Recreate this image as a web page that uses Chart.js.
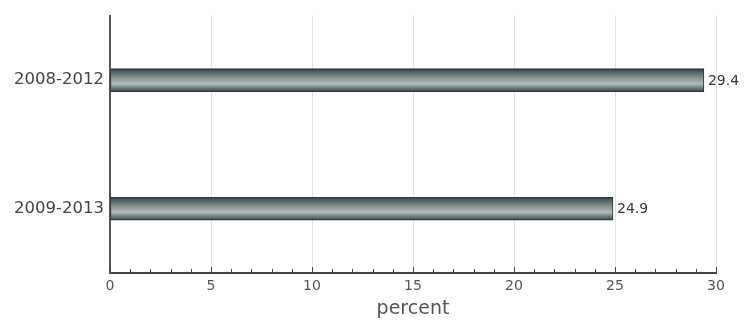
<!DOCTYPE html>
<html>
<head>
<meta charset="utf-8">
<script src="https://cdn.jsdelivr.net/npm/chart.js@4"></script>
<style>
  html, body { margin: 0; padding: 0; background: #fff; }
  #wrap { width: 748px; height: 320px; }
</style>
</head>
<body>
<div id="wrap"><canvas id="myChart_percent"></canvas></div>
<script>
// data
const periods = ['2008-2012', '2009-2013']
const percentValues = [29.4, 24.9]
const xMin = 0
const xMax = 30

// cylinder look for the bars
function barGradient(context) {
  const chart = context.chart
  const yScale = chart.scales.y
  if (!yScale || !chart.chartArea) {
    return '#7a8687'
  }
  const mid = yScale.getPixelForValue(context.dataIndex)
  const half = 12
  const g = chart.ctx.createLinearGradient(0, mid - half, 0, mid + half)
  g.addColorStop(0, '#2f3d42')
  g.addColorStop(0.18, '#56666a')
  g.addColorStop(0.45, '#909c9c')
  g.addColorStop(0.65, '#b2bab8')
  g.addColorStop(0.85, '#667475')
  g.addColorStop(1, '#2a363a')
  return g
}

// little ticks every 1 along the bottom axis, pointing up
const minorTicks = {
  id: 'minorTicks',
  afterDatasetsDraw(chart) {
    const ctx = chart.ctx
    const x = chart.scales.x
    const bottom = chart.chartArea.bottom
    ctx.save()
    ctx.strokeStyle = '#444'
    ctx.lineWidth = 1
    for (let v = xMin; v <= xMax; v++) {
      const px = Math.round(x.getPixelForValue(v)) + 0.5
      const len = v % 5 === 0 ? 6 : 4
      ctx.beginPath()
      ctx.moveTo(px, bottom)
      ctx.lineTo(px, bottom - len)
      ctx.stroke()
    }
    ctx.restore()
  }
}

// value written at the end of each bar
const valueLabels = {
  id: 'valueLabels',
  afterDatasetsDraw(chart) {
    const ctx = chart.ctx
    const meta = chart.getDatasetMeta(0)
    ctx.save()
    ctx.font = '14px "DejaVu Sans"'
    ctx.fillStyle = '#3a3a3a'
    ctx.textAlign = 'left'
    ctx.textBaseline = 'middle'
    meta.data.forEach(function (bar, i) {
      ctx.fillText(String(percentValues[i]), bar.x + 4, bar.y + 1)
    })
    ctx.restore()
  }
}

const data_percent = {
  labels: periods,
  datasets: [{
    label: 'percent',
    data: percentValues,
    backgroundColor: barGradient,
    borderColor: '#2a363a',
    borderWidth: 1,
    borderSkipped: false,
    barThickness: 23
  }]
}

const config_percent = {
  type: 'bar',
  data: data_percent,
  options: {
    indexAxis: 'y',
    responsive: true,
    maintainAspectRatio: false,
    animation: false,
    layout: { padding: { top: 9, right: 32, left: 0, bottom: 0 } },
    plugins: {
      legend: { display: false },
      tooltip: { enabled: false }
    },
    scales: {
      x: {
        min: xMin,
        max: xMax,
        ticks: {
          stepSize: 1,
          autoSkip: false,
          maxRotation: 0,
          padding: 5,
          color: '#555',
          font: { family: 'DejaVu Sans', size: 14 },
          callback: function (v) { return v % 5 === 0 ? v : '' }
        },
        grid: {
          drawTicks: false,
          color: function (c) {
            return c.tick && c.tick.value % 5 === 0 && c.tick.value !== 0 ? '#e2e2e2' : 'rgba(0,0,0,0)'
          }
        },
        border: { display: true, color: '#444', width: 2 },
        title: {
          display: true,
          text: 'percent',
          color: '#555',
          font: { family: 'DejaVu Sans', size: 19 },
          padding: { top: 3, bottom: 0 }
        },
        afterFit: function (scale) { scale.height = 47 }
      },
      y: {
        ticks: {
          color: '#444',
          padding: 6,
          font: { family: 'DejaVu Sans', size: 16.5 }
        },
        grid: { display: false, drawTicks: false },
        border: { display: true, color: '#555', width: 2 },
        afterFit: function (scale) { scale.width = 110 }
      }
    }
  },
  plugins: [minorTicks, valueLabels]
}

const barChart_percent = new Chart(
  document.getElementById('myChart_percent'),
  config_percent
)
</script>
</body>
</html>
